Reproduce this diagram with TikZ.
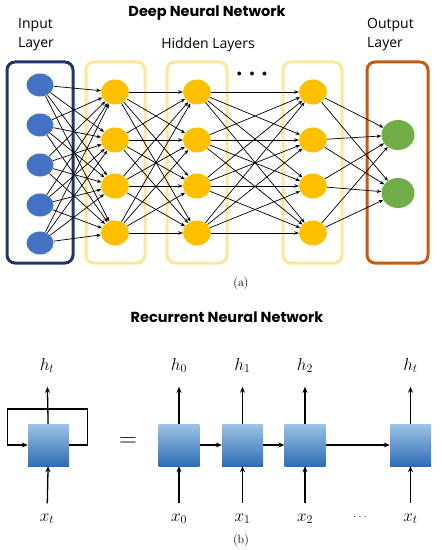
\documentclass[tikz,border=0pt]{standalone}
\usepackage{fontspec}
\usetikzlibrary{arrows.meta,shapes.geometric}
\newfontfamily\labelfont{Open Sans}
\newfontfamily\titlefont{Poppins}
\definecolor{navybox}{HTML}{203864}
\definecolor{goldbox}{HTML}{FFE699}
\definecolor{rustbox}{HTML}{C55A11}
\definecolor{inblue}{HTML}{4472C4}
\definecolor{hidgold}{HTML}{FFC000}
\definecolor{outgreen}{HTML}{70AD47}
\definecolor{celltop}{HTML}{9DC3E6}
\definecolor{cellbot}{HTML}{2E6DB4}
\tikzset{
  layerbox/.style={line width=3bp, rounded corners=8bp},
  neuron/.style={ellipse, inner sep=0pt},
  inneuron/.style={neuron, fill=inblue, minimum width=27bp, minimum height=23bp},
  hidneuron/.style={neuron, fill=hidgold, minimum width=28bp, minimum height=25bp},
  outneuron/.style={neuron, fill=outgreen, minimum width=33bp, minimum height=30bp},
  edge/.style={line width=0.7bp, -{Stealth[length=4.5bp,width=3.5bp]}},
  cell/.style={minimum width=41bp, minimum height=42bp, inner sep=0pt, top color=celltop, bottom color=cellbot},
  rnnarrow/.style={line width=1.3bp, -{Stealth[length=6bp,width=5bp]}},
  titletext/.style={font=\titlefont\bfseries\fontsize{14.5bp}{16bp}\selectfont},
  layertext/.style={font=\labelfont\fontsize{14bp}{19bp}\selectfont, align=left, inner sep=0pt},
  mathlabel/.style={font=\fontsize{17bp}{19bp}\selectfont, inner sep=0pt},
  caption/.style={font=\fontsize{12bp}{14bp}\selectfont}
}
\begin{document}
\begin{tikzpicture}[x=1bp, y=-1bp]
\useasboundingbox (0,0) rectangle (442,550);

% (a) deep neural network
\node[titletext] (dnntitle) at (207,13) {Deep Neural Network};
\node[layertext, anchor=north west] (intext) at (18,18) {Input\\Layer};
\node[layertext] (hidtext) at (208,45) {Hidden Layers};
\node[layertext, anchor=north west] (outtext) at (367,18) {Output\\Layer};

\draw[layerbox, navybox] (7,62) rectangle (73,263);
\draw[layerbox, goldbox] (86,62) rectangle (145,263);
\draw[layerbox, goldbox] (167,62) rectangle (227,263);
\draw[layerbox, goldbox] (283,62) rectangle (342,263);
\draw[layerbox, rustbox] (367,62) rectangle (428,263);
\node[font=\fontsize{10bp}{10bp}\selectfont] (dots) at (252,74) {$\bullet\;\;\bullet\;\;\bullet$};

\foreach \y [count=\i] in {85,125,165,205,243}
  \node[inneuron] (in\i) at (40,\y) {};
\foreach \y [count=\i] in {92,140,186,233} {
  \node[hidneuron] (ha\i) at (115,\y) {};
  \node[hidneuron] (hb\i) at (197,\y) {};
  \node[hidneuron] (hc\i) at (313,\y) {};
}
\foreach \y [count=\i] in {135,193}
  \node[outneuron] (out\i) at (398,\y) {};

\foreach \a in {1,...,5}
  \foreach \b in {1,...,4}
    \draw[edge] (in\a) -- (ha\b);
\foreach \a in {1,...,4}
  \foreach \b in {1,...,4} {
    \draw[edge] (ha\a) -- (hb\b);
    \draw[edge] (hb\a) -- (hc\b);
  }
\foreach \a in {1,...,4}
  \foreach \b in {1,2}
    \draw[edge] (hc\a) -- (out\b);

\node[caption] (capa) at (241,284) {(a)};

% (b) recurrent neural network
\node[titletext] (rnntitle) at (227,317) {Recurrent Neural Network};

\node[cell] (cell) at (48.5,445) {};
\node[mathlabel, anchor=base] (ht) at (47,370) {$h_t$};
\node[mathlabel, anchor=base] (xt) at (47,521) {$x_t$};
\draw[rnnarrow, shorten >=14bp] (cell) -- (ht);
\draw[rnnarrow, shorten <=10bp] (xt) -- (cell);
\draw[rnnarrow] (cell.east) -- ++(18,0) -- ++(0,-36) -- ++(-80,0) -- ++(0,36) -- (cell.west);

\node[font=\fontsize{30bp}{30bp}\selectfont] (eq) at (128,442) {$=$};

\foreach \n/\x/\s in {0/179/0, 1/242.5/1, 2/305/2, t/410.5/t} {
  \node[cell] (c\n) at (\x,445) {};
  \node[mathlabel, anchor=base] (h\n) at (\x,370) {$h_\s$};
  \node[mathlabel, anchor=base] (x\n) at (\x,521) {$x_\s$};
  \draw[rnnarrow, shorten >=14bp] (c\n) -- (h\n);
  \draw[rnnarrow, shorten <=10bp] (x\n) -- (c\n);
}
\draw[rnnarrow] (c0.east) -- (c1.west);
\draw[rnnarrow] (c1.east) -- (c2.west);
\draw[rnnarrow] (c2.east) -- (ct.west);
\node[font=\fontsize{12bp}{13bp}\selectfont] (xdots) at (360,517) {$\ldots$};

\node[caption] (capb) at (241,540) {(b)};
\end{tikzpicture}
\end{document}
